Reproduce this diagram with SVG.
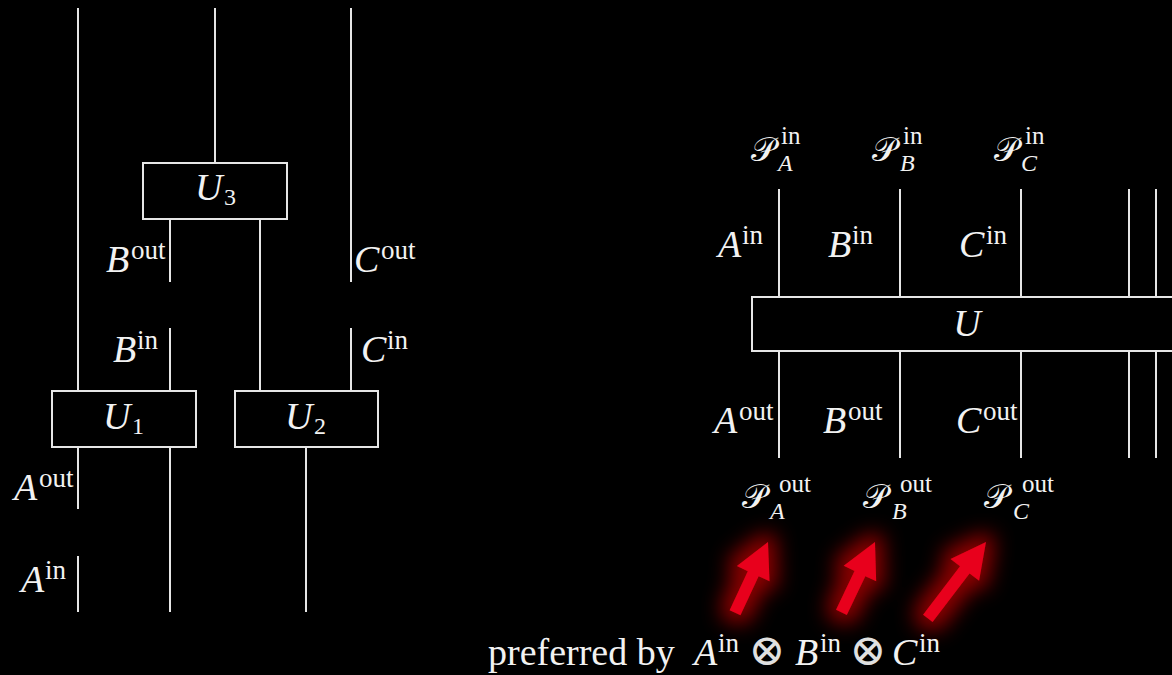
<svg xmlns="http://www.w3.org/2000/svg" width="1172" height="675" viewBox="0 0 1172 675">
  <style>
    .wire { stroke: #e6e6e6; stroke-width: 2; fill: none; }
    .box { stroke: #e6e6e6; stroke-width: 2; fill: #000; }
    text { fill: #f2f2f2; font-family: "Liberation Serif", "DejaVu Serif", serif; }
    .it { font-style: italic; font-size: 38px; }
    .sup { font-style: normal; font-size: 27px; }
    .psup { font-style: normal; font-size: 25px; }
    .sub { font-style: italic; font-size: 24px; }
    .subn { font-style: normal; font-size: 24px; }
    .cal { font-family: "DejaVu Serif", "DejaVu Sans", "Noto Sans", serif; font-style: normal; font-size: 34px; }
    .rm { font-style: normal; font-size: 38px; }
    .otimes { font-family: "DejaVu Sans", "DejaVu Serif", serif; font-style: normal; font-weight: 200; font-size: 44px; fill: #e0e0e0; }
    .arrow { fill: #e8001a; }
  </style>
  <defs>
    <filter id="glow" x="-80%" y="-80%" width="260%" height="260%">
      <feMorphology in="SourceAlpha" operator="dilate" radius="8" result="grown"/>
      <feGaussianBlur in="grown" stdDeviation="10" result="soft"/>
      <feFlood flood-color="#8a0000" result="red"/>
      <feComposite in="red" in2="soft" operator="in" result="halo"/>
      <feMerge>
        <feMergeNode in="halo"/>
        <feMergeNode in="SourceGraphic"/>
      </feMerge>
    </filter>
    <path id="arrowShort" d="M0,0 L18,35 L6,35 L6,78 L-6,78 L-6,35 L-18,35 Z"/>
    <path id="arrowLong" d="M0,0 L18,35 L6,35 L6,96 L-6,96 L-6,35 L-18,35 Z"/>
  </defs>

  <rect width="1172" height="675" fill="#000"/>

  <!-- Left circuit: wires -->
  <g id="connectors-left">
    <line class="wire" x1="78" y1="8" x2="78" y2="391"/>
    <line class="wire" x1="215" y1="8" x2="215" y2="163"/>
    <line class="wire" x1="351" y1="8" x2="351" y2="282"/>
    <line class="wire" x1="170" y1="219" x2="170" y2="282"/>
    <line class="wire" x1="260" y1="219" x2="260" y2="391"/>
    <line class="wire" x1="170" y1="328" x2="170" y2="391"/>
    <line class="wire" x1="351" y1="328" x2="351" y2="391"/>
    <line class="wire" x1="78" y1="447" x2="78" y2="509"/>
    <line class="wire" x1="170" y1="447" x2="170" y2="612"/>
    <line class="wire" x1="306" y1="447" x2="306" y2="612"/>
    <line class="wire" x1="78" y1="556" x2="78" y2="612"/>
  </g>

  <!-- Left circuit: gates -->
  <g id="gate-U3">
    <rect class="box" x="143" y="163" width="144" height="56"/>
    <text x="195" y="200"><tspan class="it">U</tspan><tspan class="subn" x="224" y="205">3</tspan></text>
  </g>
  <g id="gate-U1">
    <rect class="box" x="52" y="391" width="144" height="56"/>
    <text x="103" y="429"><tspan class="it">U</tspan><tspan class="subn" x="132" y="434">1</tspan></text>
  </g>
  <g id="gate-U2">
    <rect class="box" x="235" y="391" width="143" height="56"/>
    <text x="285" y="429"><tspan class="it">U</tspan><tspan class="subn" x="314" y="434">2</tspan></text>
  </g>

  <!-- Left circuit: wire labels -->
  <g id="labels-left">
    <text x="106" y="272"><tspan class="it">B</tspan><tspan class="sup" x="131" y="259">out</tspan></text>
    <text x="354" y="272"><tspan class="it">C</tspan><tspan class="sup" x="381" y="259">out</tspan></text>
    <text x="113" y="362"><tspan class="it">B</tspan><tspan class="sup" x="137" y="349">in</tspan></text>
    <text x="361" y="362"><tspan class="it">C</tspan><tspan class="sup" x="387" y="349">in</tspan></text>
    <text x="14" y="500"><tspan class="it">A</tspan><tspan class="sup" x="39" y="487">out</tspan></text>
    <text x="21" y="592"><tspan class="it">A</tspan><tspan class="sup" x="45" y="579">in</tspan></text>
  </g>

  <!-- Right circuit: wires -->
  <g id="connectors-right">
    <line class="wire" x1="779" y1="189" x2="779" y2="297"/>
    <line class="wire" x1="900" y1="189" x2="900" y2="297"/>
    <line class="wire" x1="1021" y1="189" x2="1021" y2="297"/>
    <line class="wire" x1="1129" y1="189" x2="1129" y2="297"/>
    <line class="wire" x1="1156" y1="189" x2="1156" y2="297"/>
    <line class="wire" x1="779" y1="351" x2="779" y2="458"/>
    <line class="wire" x1="900" y1="351" x2="900" y2="458"/>
    <line class="wire" x1="1021" y1="351" x2="1021" y2="458"/>
    <line class="wire" x1="1129" y1="351" x2="1129" y2="458"/>
    <line class="wire" x1="1156" y1="351" x2="1156" y2="458"/>
  </g>

  <!-- Right circuit: joint unitary -->
  <g id="gate-U">
    <rect class="box" x="752" y="297" width="440" height="54"/>
    <text class="it" x="967" y="336" text-anchor="middle">U</text>
  </g>

  <!-- Right circuit: projector labels above -->
  <g id="labels-proj-in">
    <text x="751" y="161"><tspan class="cal">𝒫</tspan><tspan class="psup" x="781" y="144">in</tspan><tspan class="sub" x="778" y="171">A</tspan></text>
    <text x="872" y="161"><tspan class="cal">𝒫</tspan><tspan class="psup" x="903" y="144">in</tspan><tspan class="sub" x="900" y="171">B</tspan></text>
    <text x="994" y="161"><tspan class="cal">𝒫</tspan><tspan class="psup" x="1025" y="144">in</tspan><tspan class="sub" x="1021" y="171">C</tspan></text>
  </g>

  <!-- Right circuit: wire labels -->
  <g id="labels-right">
    <text x="718" y="257"><tspan class="it">A</tspan><tspan class="sup" x="742" y="244">in</tspan></text>
    <text x="828" y="257"><tspan class="it">B</tspan><tspan class="sup" x="852" y="244">in</tspan></text>
    <text x="959" y="257"><tspan class="it">C</tspan><tspan class="sup" x="986" y="244">in</tspan></text>
    <text x="714" y="433"><tspan class="it">A</tspan><tspan class="sup" x="739" y="420">out</tspan></text>
    <text x="823" y="433"><tspan class="it">B</tspan><tspan class="sup" x="848" y="420">out</tspan></text>
    <text x="956" y="433"><tspan class="it">C</tspan><tspan class="sup" x="983" y="420">out</tspan></text>
  </g>

  <!-- Right circuit: projector labels below -->
  <g id="labels-proj-out">
    <text x="742" y="508"><tspan class="cal">𝒫</tspan><tspan class="psup" x="779" y="492">out</tspan><tspan class="sub" x="770" y="519">A</tspan></text>
    <text x="863" y="508"><tspan class="cal">𝒫</tspan><tspan class="psup" x="900" y="492">out</tspan><tspan class="sub" x="892" y="519">B</tspan></text>
    <text x="984" y="508"><tspan class="cal">𝒫</tspan><tspan class="psup" x="1022" y="492">out</tspan><tspan class="sub" x="1013" y="519">C</tspan></text>
  </g>

  <!-- Highlight arrows -->
  <g id="arrows" filter="url(#glow)">
    <use href="#arrowShort" class="arrow" transform="translate(768,542) rotate(25)"/>
    <use href="#arrowShort" class="arrow" transform="translate(875,542) rotate(25.5)"/>
    <use href="#arrowLong" class="arrow" transform="translate(986,542) rotate(37.3)"/>
  </g>

  <!-- Caption -->
  <g id="caption">
    <text y="665"><tspan class="rm" x="488">preferred by</tspan><tspan class="it" x="694">A</tspan><tspan class="sup" x="718" y="652">in</tspan><tspan class="it" x="795" y="665">B</tspan><tspan class="sup" x="820" y="652">in</tspan><tspan class="it" x="892" y="665">C</tspan><tspan class="sup" x="919" y="652">in</tspan></text>
    <text class="otimes" x="767" y="665" text-anchor="middle">⊗</text>
    <text class="otimes" x="868" y="665" text-anchor="middle">⊗</text>
  </g>
</svg>
